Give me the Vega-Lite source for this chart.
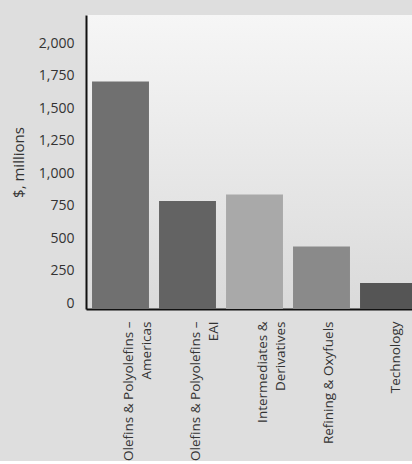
{
  "$schema": "https://vega.github.io/schema/vega-lite/v6.json",
  "width": 337,
  "height": 294,
  "padding": {"left": 11, "top": 15, "right": 0, "bottom": 0},
  "background": "#dedede",
  "data": {
    "values": [
      {"segment": "Olefins & Polyolefins –|Americas", "value": 1750},
      {"segment": "Olefins & Polyolefins –|EAI", "value": 830},
      {"segment": "Intermediates &|Derivatives", "value": 880},
      {"segment": "Refining & Oxyfuels", "value": 480},
      {"segment": "Technology", "value": 200}
    ]
  },
  "mark": {"type": "bar"},
  "encoding": {
    "x": {
      "field": "segment",
      "type": "nominal",
      "sort": null,
      "scale": {"paddingInner": 0.15, "paddingOuter": 0.09},
      "axis": {
        "title": null,
        "labelAngle": -90,
        "labelExpr": "split(datum.label, '|')",
        "labelLineHeight": 18,
        "labelPadding": 12,
        "labelOffset": 8,
        "labelLimit": 0,
        "ticks": false,
        "domainColor": "#111111",
        "domainWidth": 2,
        "labelFont": "Open Sans",
        "labelFontSize": 13.5,
        "labelColor": "#333333"
      }
    },
    "y": {
      "field": "value",
      "type": "quantitative",
      "scale": {"domain": [0, 2262], "nice": false},
      "axis": {
        "title": "$, millions",
        "titleFont": "Open Sans",
        "titleFontSize": 15,
        "titleFontWeight": "normal",
        "titleColor": "#333333",
        "titlePadding": 12,
        "values": [0, 250, 500, 750, 1000, 1250, 1500, 1750, 2000],
        "format": ",d",
        "grid": false,
        "ticks": false,
        "labelPadding": 12,
        "labelOffset": -6,
        "labelFont": "Open Sans",
        "labelFontSize": 14,
        "labelColor": "#333333",
        "domainColor": "#111111",
        "domainWidth": 2
      }
    },
    "color": {
      "field": "segment",
      "type": "nominal",
      "sort": null,
      "scale": {"range": ["#707070", "#636363", "#a9a9a9", "#8a8a8a", "#555555"]},
      "legend": null
    }
  },
  "config": {
    "view": {
      "stroke": null,
      "fill": {
        "gradient": "linear",
        "x1": 0, "y1": 0, "x2": 0, "y2": 1,
        "stops": [
          {"offset": 0, "color": "#f6f6f6"},
          {"offset": 1, "color": "#dadada"}
        ]
      }
    }
  }
}
